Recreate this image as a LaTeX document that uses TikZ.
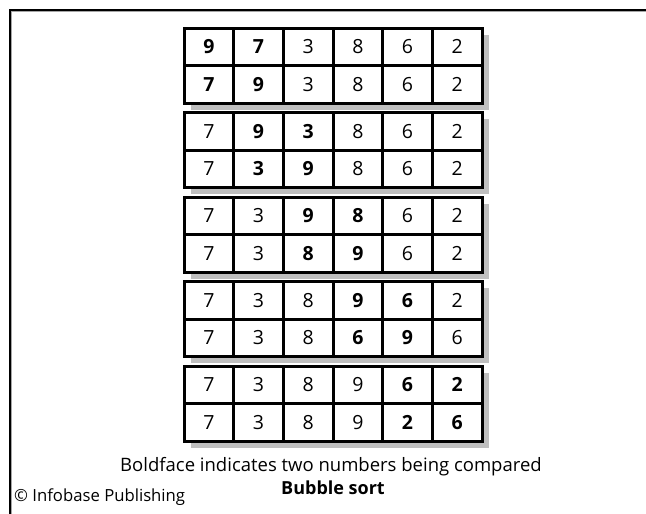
\documentclass[tikz,border=0pt]{standalone}
\usepackage{fontspec}
\setmainfont{Open Sans}
\newcommand\bnum[1]{\textbf{#1}}
\tikzset{
  cellbox/.style={draw=black, fill=white, line width=3pt, minimum width=49.67pt, minimum height=37.5pt, inner sep=0pt, outer sep=0pt, font=\fontsize{19.5}{21}\selectfont},
  shadowbox/.style={fill=black!25, draw=none},
}
\newcommand\drawrow[3]{%
  \foreach \v [count=\i from 0] in {#3} {
    \node[cellbox] (c#1\i) at ({184+49.67*(\i+0.5)},#2) {\v};
  }%
}
\begin{document}
\begin{tikzpicture}[x=1pt,y=-1pt]
\useasboundingbox[fill=white] (0,0) rectangle (646,514);
% frame
\draw[black!35, line width=1pt] (11.5,514) -- (11.5,11.5) -- (646,11.5);
\draw[black, line width=2pt] (10,514) -- (10,10) -- (646,10);
% shadows
\foreach \t in {28,112.5,197,281.5,366} {
  \fill[black!25] (190.5,\t+6.5) rectangle (488.5,\t+81.5);
}
\drawrow{a1}{46.75}{\bnum{9},\bnum{7},3,8,6,2}
\drawrow{a2}{84.25}{\bnum{7},\bnum{9},3,8,6,2}
\drawrow{b1}{131.25}{7,\bnum{9},\bnum{3},8,6,2}
\drawrow{b2}{168.75}{7,\bnum{3},\bnum{9},8,6,2}
\drawrow{c1}{215.75}{7,3,\bnum{9},\bnum{8},6,2}
\drawrow{c2}{253.25}{7,3,\bnum{8},\bnum{9},6,2}
\drawrow{d1}{300.25}{7,3,8,\bnum{9},\bnum{6},2}
\drawrow{d2}{337.75}{7,3,8,\bnum{6},\bnum{9},6}
\drawrow{e1}{384.75}{7,3,8,9,\bnum{6},\bnum{2}}
\drawrow{e2}{422.25}{7,3,8,9,\bnum{2},\bnum{6}}
% captions
\node[font=\fontsize{18.5}{20}\selectfont, inner sep=0pt] (cap1) at (331,467) {Boldface indicates two numbers being compared};
\node[font=\fontsize{18}{20}\selectfont\bfseries, inner sep=0pt] (cap2) at (333,487.5) {Bubble sort};
\node[font=\fontsize{16.7}{18}\selectfont, inner sep=0pt, anchor=west] (copy) at (14,497) {© Infobase Publishing};
\end{tikzpicture}
\end{document}
